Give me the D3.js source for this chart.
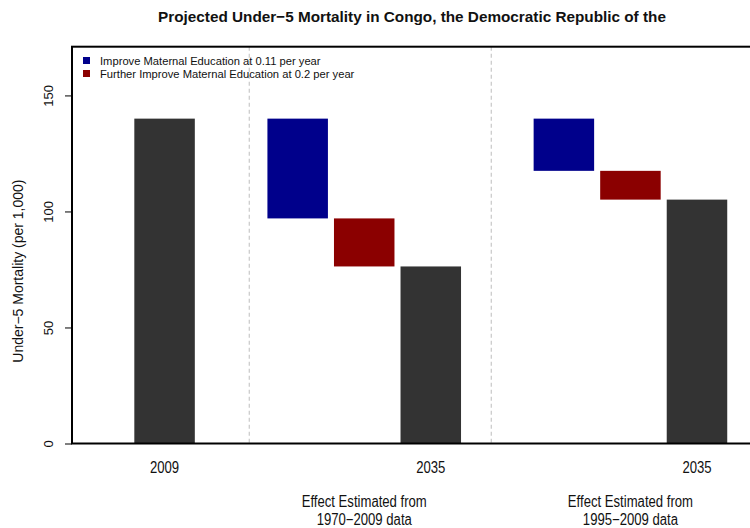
<!DOCTYPE html>
<html>
<head>
<meta charset="utf-8">
<script src="https://cdn.jsdelivr.net/npm/d3@7"></script>
<style>
  html, body { margin: 0; padding: 0; background: #fff; }
  svg { display: block; }
  text { font-family: "Liberation Sans", Arial, sans-serif; fill: #111; }
</style>
</head>
<body>
<svg id="chart" width="750" height="528"></svg>
<script>
// ---- data ----
const title = "Projected Under\u22125 Mortality in Congo, the Democratic Republic of the";
const yLabel = "Under\u22125 Mortality (per 1,000)";
const barLabels = ["2009", "", "", "", "2035", "", "", "", "2035"];
const barSeries = ["total", null, "edu1", "edu2", "total", null, "edu1", "edu2", "total"];
const barTops    = [140.0, null, 140.0, 97.0, 76.3, null, 140.0, 117.5, 105.1];
const barBottoms = [0,     null, 97.0,  76.3, 0,    null, 117.5, 105.1, 0];
const groupLabels = [["Effect Estimated from", "1970\u22122009 data"], ["Effect Estimated from", "1995\u22122009 data"]];
const groupCenters = [3, 7];          // bar index under which each group label sits
const separators = [2, 6];            // separator positions in bar units
const yTicks = [0, 50, 100, 150];
const legendLabels = ["Improve Maternal Education at 0.11 per year", "Further Improve Maternal Education at 0.2 per year"];
const legendKeys = ["edu1", "edu2"];
const colors = { total: "#333333", edu1: "#00008B", edu2: "#8B0000" };

// ---- layout ----
const svg = d3.select("#chart");
const plot = { left: 72, top: 46.7, bottom: 443.5, right: 783.5 };
const space = 0.1, barW = 1;
const x = d3.scaleLinear().domain([-0.93, 10.83]).range([plot.left, plot.right]);
const y = d3.scaleLinear().domain([0, 171]).range([plot.bottom, plot.top]);
const barLeft = i => space + i * (barW + space);
const barCenter = i => barLeft(i) + barW / 2;
const narrow = 0.82;

// separators
svg.append("g").selectAll("line").data(separators).join("line")
  .attr("x1", d => x(d)).attr("x2", d => x(d))
  .attr("y1", plot.top).attr("y2", plot.bottom)
  .attr("stroke", "#c8c8c8").attr("stroke-width", 1.2)
  .attr("stroke-dasharray", "4,3");

// bars
const bars = barTops.map((t, i) => ({ i, top: t, bottom: barBottoms[i], s: barSeries[i] })).filter(d => d.s);
svg.append("g").selectAll("rect").data(bars).join("rect")
  .attr("x", d => x(barLeft(d.i)))
  .attr("width", d => x(barLeft(d.i) + barW) - x(barLeft(d.i)))
  .attr("y", d => y(d.top))
  .attr("height", d => y(d.bottom) - y(d.top))
  .attr("fill", d => colors[d.s]);

// box
svg.append("rect")
  .attr("x", plot.left).attr("y", plot.top)
  .attr("width", plot.right - plot.left).attr("height", plot.bottom - plot.top)
  .attr("fill", "none").attr("stroke", "#000").attr("stroke-width", 2);

// y axis
const yAxis = svg.append("g").attr("transform", `translate(${plot.left},0)`)
  .call(d3.axisLeft(y).tickValues(yTicks).tickSize(7).tickFormat(d3.format("d")));
yAxis.select(".domain").remove();
yAxis.selectAll(".tick line").attr("stroke", "#000").attr("stroke-width", 1);
yAxis.selectAll(".tick text")
  .attr("x", null).attr("dy", null)
  .attr("transform", "translate(-24,0) rotate(-90)")
  .attr("text-anchor", "middle")
  .attr("dominant-baseline", "central")
  .style("font-size", "13px")
  .style("font-family", "'Liberation Sans', Arial, sans-serif")
  .attr("fill", "#111");

// y label
svg.append("text")
  .attr("transform", `translate(18,${(plot.top + plot.bottom) / 2 + 26}) rotate(-90)`)
  .attr("text-anchor", "middle").attr("dominant-baseline", "central")
  .style("font-size", "14px")
  .text(yLabel);

// x bar labels
svg.append("g").selectAll("text").data(barLabels.map((l, i) => ({ l, i })).filter(d => d.l))
  .join("text")
  .attr("transform", d => `translate(${x(barCenter(d.i))},468) scale(${narrow},1)`)
  .attr("text-anchor", "middle").attr("dominant-baseline", "central")
  .style("font-size", "16px")
  .text(d => d.l);

// group labels
groupLabels.forEach((lines, g) => {
  lines.forEach((line, k) => {
    svg.append("text")
      .attr("transform", `translate(${x(barCenter(groupCenters[g]))},${502 + k * 18}) scale(${narrow},1)`)
      .attr("text-anchor", "middle").attr("dominant-baseline", "central")
      .style("font-size", "16px")
      .text(line);
  });
});

// title
svg.append("text")
  .attr("x", 412).attr("y", 16)
  .attr("text-anchor", "middle").attr("dominant-baseline", "central")
  .style("font-size", "15.3px").style("font-weight", "bold")
  .text(title);

// legend
const lg = svg.append("g");
legendLabels.forEach((lab, k) => {
  lg.append("rect")
    .attr("x", 83).attr("y", 57 + k * 13)
    .attr("width", 7).attr("height", 7)
    .attr("fill", colors[legendKeys[k]]);
  lg.append("text")
    .attr("x", 100).attr("y", 60.5 + k * 13)
    .attr("dominant-baseline", "central")
    .style("font-size", "11.2px")
    .text(lab);
});
</script>
</body>
</html>
